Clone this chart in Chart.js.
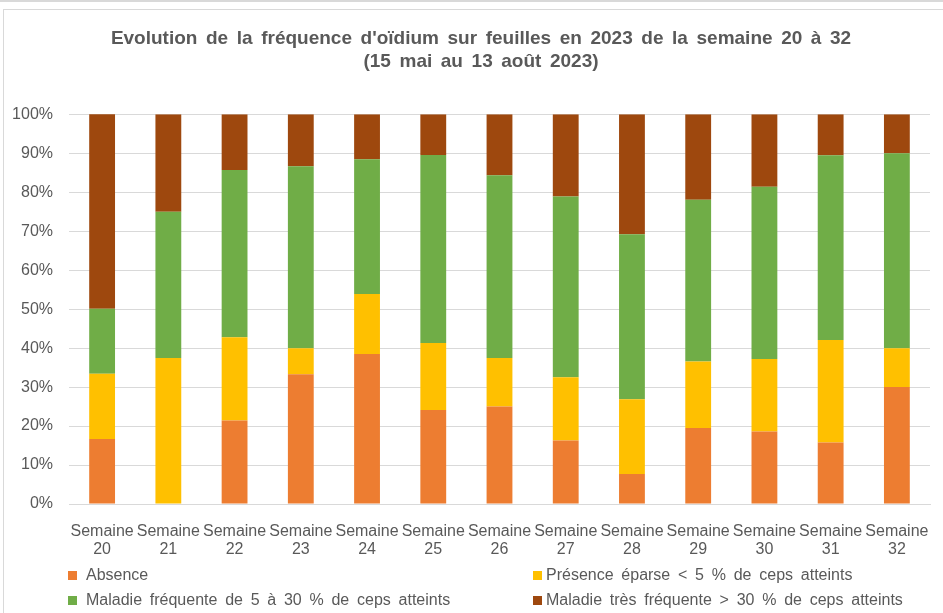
<!DOCTYPE html>
<html>
<head>
<meta charset="utf-8">
<script src="https://cdn.jsdelivr.net/npm/chart.js"></script>
<style>
  body { margin: 0; background: #fff; overflow: hidden; font-family: "Liberation Sans", Arial, sans-serif; }
  #topband { position: absolute; left: 0; top: 0; width: 943px; height: 2px; background: #d9d9d9; }
  #frame { position: absolute; left: 3px; top: 9px; width: 980px; height: 640px; border: 1px solid #d9d9d9; }
  #wrap { position: absolute; left: 0; top: 0; width: 962px; height: 613px; }
  #legend { position: absolute; left: 0; top: 0; width: 943px; height: 613px; pointer-events: none; color: #595959; font-size: 16px; word-spacing: 3.3px; }
  .txt { position: absolute; white-space: nowrap; line-height: 18px; }
  .sq { position: absolute; width: 9px; height: 9px; }
</style>
</head>
<body>
<div id="topband"></div>
<div id="frame"></div>
<div id="wrap"><canvas id="myChart"></canvas></div>
<div id="legend"></div>
<script>
var weeks = ['20', '21', '22', '23', '24', '25', '26', '27', '28', '29', '30', '31', '32']
var absence = [16.7, 0, 21.4, 33.3, 38.5, 24.1, 25, 16.3, 7.7, 19.5, 18.6, 15.8, 30]
var presence = [16.7, 37.5, 21.4, 6.7, 15.4, 17.2, 12.5, 16.2, 19.2, 17.1, 18.6, 26.3, 10]
var frequente = [16.7, 37.5, 42.9, 46.7, 34.6, 48.3, 46.9, 46.4, 42.3, 41.5, 44.2, 47.4, 50]
var tresFrequente = [50, 25, 14.3, 13.3, 11.5, 10.4, 15.6, 21.1, 30.8, 21.9, 18.6, 10.5, 10]
var seriesNames = ['Absence', 'Présence éparse < 5 % de ceps atteints', 'Maladie fréquente de 5 à 30 % de ceps atteints', 'Maladie très fréquente > 30 % de ceps atteints']
var colors = ['#ED7D31', '#FFC000', '#70AD47', '#9E480E']

var labels = weeks.map(function(w){ return ['Semaine', w] })
var values = [absence, presence, frequente, tresFrequente]

var ctx = document.getElementById('myChart')

// wider gaps between words like the original, and title moved a bit right
var tweaks = {
  id: 'tweaks',
  afterLayout: function(chart){
    chart.titleBlock.left += 32
  },
  beforeDraw: function(chart){ chart.ctx.wordSpacing = '3.3px' }
}

new Chart(ctx, {
  type: 'bar',
  data: {
    labels: labels,
    datasets: values.map(function(v, i){
      return {
        label: seriesNames[i],
        data: v,
        backgroundColor: colors[i],
        borderWidth: 0,
        barPercentage: 0.39,
        categoryPercentage: 1
      }
    })
  },
  options: {
    responsive: true,
    maintainAspectRatio: false,
    animation: false,
    layout: { padding: { left: 0, right: 32, top: 0, bottom: 59 } },
    plugins: {
      legend: { display: false },
      tooltip: { enabled: false },
      title: {
        display: true,
        text: ["Evolution de la fréquence d'oïdium sur feuilles en 2023 de la semaine 20 à 32", '(15 mai au 13 août 2023)'],
        color: '#595959',
        font: { family: '"Liberation Sans", Arial, sans-serif', size: 19, weight: 'bold', lineHeight: 1.22 },
        padding: { top: 27, bottom: 41 }
      }
    },
    scales: {
      x: {
        stacked: true,
        grid: { display: false },
        border: { display: true, color: '#d9d9d9' },
        ticks: {
          color: '#595959',
          padding: 10,
          maxRotation: 0,
          autoSkip: false,
          font: { family: '"Liberation Sans", Arial, sans-serif', size: 16, lineHeight: 1.15 }
        },
        afterFit: function(s){ s.height = 50 }
      },
      y: {
        stacked: true,
        min: 0,
        max: 100,
        grid: { color: '#d9d9d9', drawTicks: false },
        border: { display: false },
        ticks: {
          stepSize: 10,
          color: '#595959',
          padding: 16,
          font: { family: '"Liberation Sans", Arial, sans-serif', size: 16 },
          callback: function(v){ return v + '%' }
        },
        afterFit: function(s){ s.width = 69 }
      }
    }
  },
  plugins: [tweaks]
})

// legend in two columns like the original: square x, text x, row y
var legendPos = [[68, 86, 566], [533, 546, 566], [68, 86, 591], [533, 546, 591]]
var leg = document.getElementById('legend')
seriesNames.forEach(function(name, i){
  var sq = document.createElement('div')
  sq.className = 'sq'
  sq.style.background = colors[i]
  sq.style.left = legendPos[i][0] + 'px'
  sq.style.top = (legendPos[i][2] + 5) + 'px'
  leg.appendChild(sq)
  var t = document.createElement('div')
  t.className = 'txt'
  t.style.left = legendPos[i][1] + 'px'
  t.style.top = legendPos[i][2] + 'px'
  t.textContent = name
  leg.appendChild(t)
})
</script>
</body>
</html>
